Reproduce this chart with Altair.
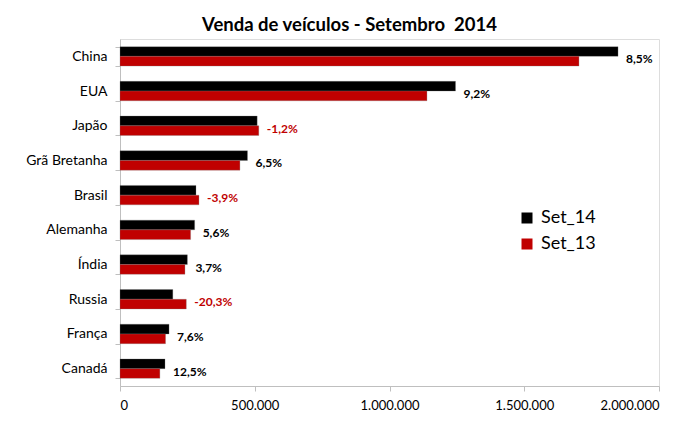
import altair as alt
import pandas as pd

countries = ["China", "EUA", "Japão", "Grã Bretanha", "Brasil", "Alemanha",
             "Índia", "Russia", "França", "Canadá"]
set_14 = [1848000, 1245000, 509000, 473000, 282000, 277000, 250000, 196000, 182000, 167000]
set_13 = [1703000, 1139000, 515000, 445000, 293000, 262000, 241000, 246000, 169000, 148000]
variation = ["8,5%", "9,2%", "-1,2%", "6,5%", "-3,9%", "5,6%", "3,7%", "-20,3%", "7,6%", "12,5%"]
series = ["Set_14", "Set_13"]
tick_values = [0, 500000, 1000000, 1500000, 2000000]
tick_labels = ["0", "500.000", "1.000.000", "1.500.000", "2.000.000"]

FONT = "Lato"
RED = "#C00000"

rows = []
for c, a, b in zip(countries, set_14, set_13):
    rows.append({"country": c, "series": "Set_14", "value": a})
    rows.append({"country": c, "series": "Set_13", "value": b})
bars_df = pd.DataFrame(rows)

lab_df = pd.DataFrame({
    "country": countries,
    "xmax": [max(a, b) for a, b in zip(set_14, set_13)],
    "label": variation,
    "col": [RED if v.startswith("-") else "#000000" for v in variation],
})

label_expr = "[" + ",".join("'%s'" % t for t in tick_labels) + "][round(datum.value/500000)]"

y_enc = alt.Y("country:N", sort=countries, title=None,
              scale=alt.Scale(paddingInner=0.44, paddingOuter=0.22),
              axis=alt.Axis(tickBand="extent", tickSize=5, tickColor="#BFBFBF",
                            domainColor="#BFBFBF", labelFont=FONT, labelFontSize=14,
                            labelColor="#000000", labelPadding=8))
x_enc = alt.X("value:Q", title=None,
              scale=alt.Scale(domain=[0, 2000000], nice=False),
              axis=alt.Axis(values=tick_values, labelExpr=label_expr, grid=False,
                            tickSize=5, tickColor="#BFBFBF", domainColor="#BFBFBF",
                            labelFont=FONT, labelFontSize=13, labelColor="#000000",
                            labelPadding=8))

bars = alt.Chart(bars_df).mark_bar(stroke="#7f7f7f", strokeWidth=0.3).encode(
    x=x_enc,
    y=y_enc,
    yOffset=alt.YOffset("series:N", sort=series, scale=alt.Scale(paddingInner=0)),
    color=alt.Color("series:N", sort=series,
                    scale=alt.Scale(domain=series, range=["#000000", RED]),
                    legend=alt.Legend(title=None, orient="none", legendX=398, legendY=170,
                                      symbolType="square", symbolSize=121,
                                      symbolStrokeWidth=0, labelFont=FONT,
                                      labelFontSize=18, labelColor="#000000",
                                      rowPadding=8, labelOffset=5)),
)

labels = alt.Chart(lab_df).mark_text(
    align="left", baseline="middle", dx=8, dy=3, font=FONT, fontSize=12, fontWeight="bold"
).encode(
    x=alt.X("xmax:Q"),
    y=alt.Y("country:N", sort=countries),
    text="label:N",
    color=alt.Color("col:N", scale=None),
)

chart = alt.layer(bars, labels).properties(
    width=539,
    height=347,
    autosize=alt.AutoSizeParams(type="none"),
    padding={"left": 112, "top": 31, "right": 33, "bottom": 35},
    title=alt.TitleParams("Venda de veículos - Setembro\u00a0 2014", font=FONT, fontSize=18.5,
                          fontWeight="bold", color="#000000", anchor="middle",
                          dx=-40, offset=-2),
).configure_view(stroke=None).configure(background="white")

chart.save("out.html", embed_options={"renderer": "svg", "actions": False})
